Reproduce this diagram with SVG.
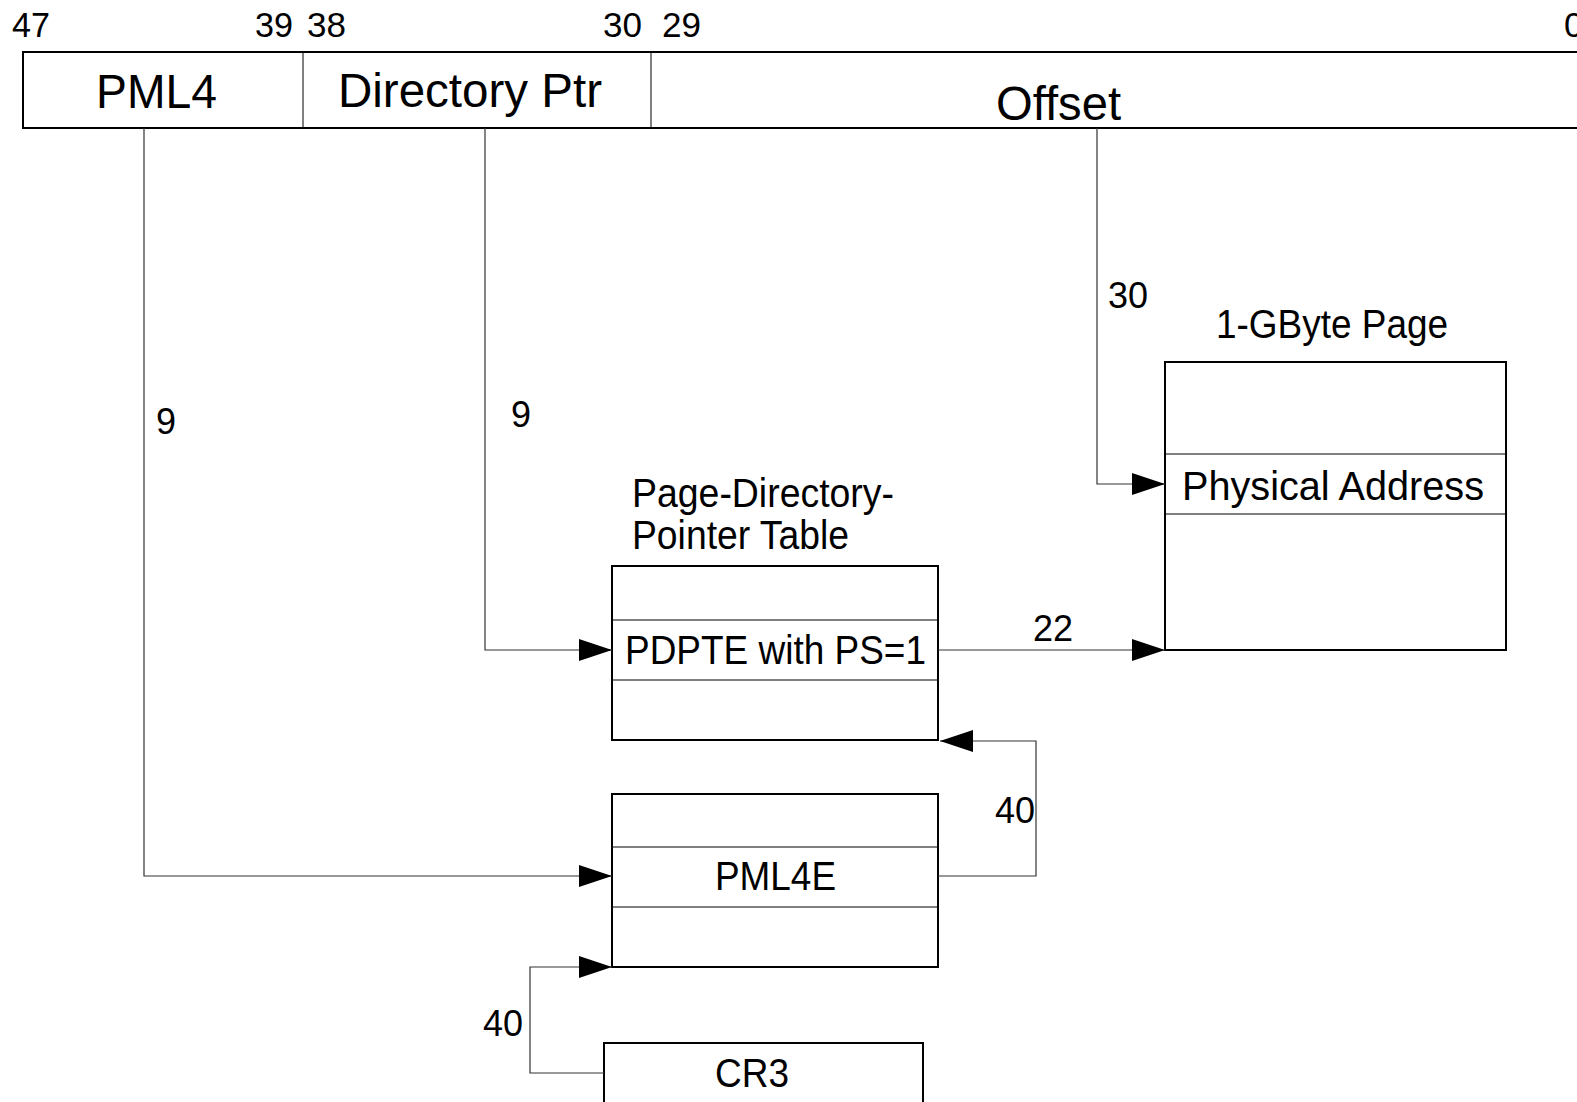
<svg xmlns="http://www.w3.org/2000/svg" width="1577" height="1102" viewBox="0 0 1577 1102">
<style>
text{font-family:"Liberation Sans",Arial,sans-serif;fill:#000}
.box{fill:#fff;stroke:#000;stroke-width:2}
.row{stroke:#000;stroke-width:1;fill:none}
.conn{fill:none;stroke:#333;stroke-width:1.2}
.bit{font-size:35px}
.fld{font-size:48px}
.lbl{font-size:36px}
.big{font-size:40px}
</style>
<defs>
<marker id="ah" markerUnits="userSpaceOnUse" markerWidth="34" markerHeight="22" refX="33" refY="11" orient="auto">
<path d="M0,0 L33,11 L0,22 Z" fill="#000"/>
</marker>
</defs>
<g id="address">
<rect class="box" x="23" y="52" width="1570" height="76"/>
<line class="row" x1="303" y1="52" x2="303" y2="128"/>
<line class="row" x1="651" y1="52" x2="651" y2="128"/>
<text class="bit" x="12" y="37" textLength="38" lengthAdjust="spacingAndGlyphs">47</text>
<text class="bit" x="255" y="37" textLength="38" lengthAdjust="spacingAndGlyphs">39</text>
<text class="bit" x="307" y="37" textLength="39" lengthAdjust="spacingAndGlyphs">38</text>
<text class="bit" x="603" y="37" textLength="39" lengthAdjust="spacingAndGlyphs">30</text>
<text class="bit" x="662" y="37" textLength="39" lengthAdjust="spacingAndGlyphs">29</text>
<text class="bit" x="1564" y="37">0</text>
<text class="fld" x="96" y="108" textLength="121" lengthAdjust="spacingAndGlyphs">PML4</text>
<text class="fld" x="338" y="107" textLength="264" lengthAdjust="spacingAndGlyphs">Directory Ptr</text>
<text class="fld" x="996" y="120" textLength="125" lengthAdjust="spacingAndGlyphs">Offset</text>
</g>
<g id="pdpt">
<text class="big" x="632" y="507" textLength="262" lengthAdjust="spacingAndGlyphs">Page-Directory-</text>
<text class="big" x="632" y="549" textLength="217" lengthAdjust="spacingAndGlyphs">Pointer Table</text>
<rect class="box" x="612" y="566" width="326" height="174"/>
<line class="row" x1="612" y1="620" x2="938" y2="620"/>
<line class="row" x1="612" y1="680" x2="938" y2="680"/>
<text class="big" x="625" y="664" textLength="301" lengthAdjust="spacingAndGlyphs">PDPTE with PS=1</text>
</g>
<g id="page">
<text class="big" x="1216" y="338" textLength="232" lengthAdjust="spacingAndGlyphs">1-GByte Page</text>
<rect class="box" x="1165" y="362" width="341" height="288"/>
<line class="row" x1="1165" y1="454" x2="1506" y2="454"/>
<line class="row" x1="1165" y1="514" x2="1506" y2="514"/>
<text class="big" x="1182" y="500" textLength="302" lengthAdjust="spacingAndGlyphs">Physical Address</text>
</g>
<g id="pml4">
<rect class="box" x="612" y="794" width="326" height="173"/>
<line class="row" x1="612" y1="847" x2="938" y2="847"/>
<line class="row" x1="612" y1="907" x2="938" y2="907"/>
<text class="big" x="715" y="890" textLength="121" lengthAdjust="spacingAndGlyphs">PML4E</text>
</g>
<g id="cr3">
<rect class="box" x="604" y="1043" width="319" height="70"/>
<text class="big" x="715" y="1087" textLength="74" lengthAdjust="spacingAndGlyphs">CR3</text>
</g>
<g id="connectors">
<polyline class="conn" points="144,128 144,876 612,876" marker-end="url(#ah)"/>
<polyline class="conn" points="485,128 485,650 612,650" marker-end="url(#ah)"/>
<polyline class="conn" points="1097,128 1097,484 1165,484" marker-end="url(#ah)"/>
<polyline class="conn" points="938,650 1165,650" marker-end="url(#ah)"/>
<polyline class="conn" points="938,876 1036,876 1036,741 940,741" marker-end="url(#ah)"/>
<polyline class="conn" points="604,1073 530,1073 530,967 612,967" marker-end="url(#ah)"/>
<text class="lbl" x="156" y="434">9</text>
<text class="lbl" x="511" y="427">9</text>
<text class="lbl" x="1108" y="308">30</text>
<text class="lbl" x="1033" y="641">22</text>
<text class="lbl" x="995" y="823">40</text>
<text class="lbl" x="483" y="1036">40</text>
</g>
</svg>
